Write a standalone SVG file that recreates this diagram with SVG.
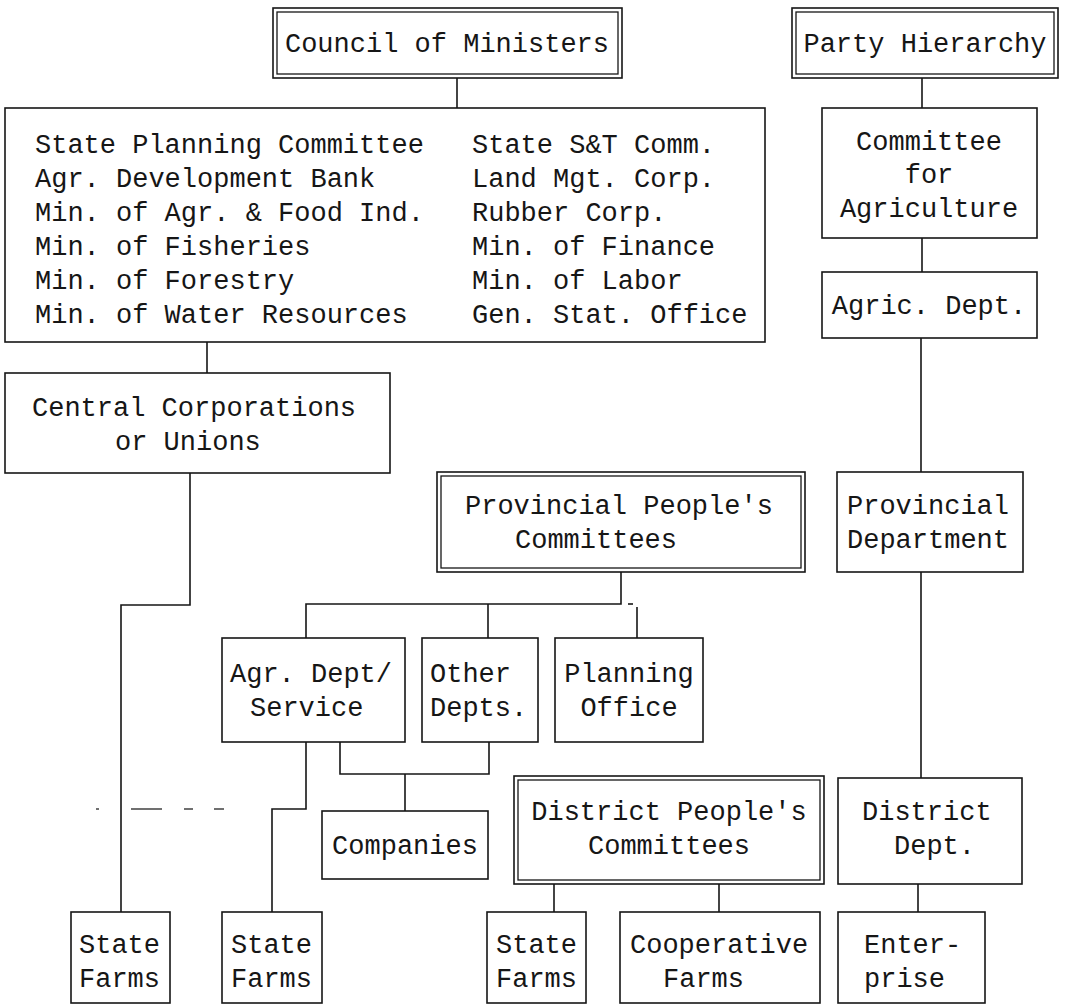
<svg xmlns="http://www.w3.org/2000/svg" width="1065" height="1006" viewBox="0 0 1065 1006">
  <style>
    .box { fill: #fff; stroke: #161616; stroke-width: 1.6; }
    .dbl { fill: none; stroke: #161616; stroke-width: 1.3; }
    .ln { fill: none; stroke: #161616; stroke-width: 1.6; }
    .dash { fill: none; stroke: #333; stroke-width: 1.4; }
    .t { font-family: "Liberation Mono", "Courier New", monospace; font-size: 27px; fill: #161616; }
    .m { text-anchor: middle; }
  </style>
  <rect width="1065" height="1006" fill="#fff"/>

  <!-- connectors -->
  <g id="connectors">
    <polyline class="ln" points="457,78 457,108"/>
    <polyline class="ln" points="922,78 922,108"/>
    <polyline class="ln" points="922,238 922,272"/>
    <polyline class="ln" points="921,338 921,472"/>
    <polyline class="ln" points="921,572 921,778"/>
    <polyline class="ln" points="918,884 918,912"/>
    <polyline class="ln" points="207,342 207,373"/>
    <polyline class="ln" points="190,473 190,605 121,605 121,912"/>
    <polyline class="ln" points="621,572 621,604 306,604 306,638"/>
    <polyline class="ln" points="488,604 488,638"/>
    <polyline class="ln" points="628,604 633,604"/>
    <polyline class="ln" points="637,607 637,638"/>
    <polyline class="ln" points="306,742 306,809 272,809 272,912"/>
    <polyline class="ln" points="340,742 340,774 489,774 489,742"/>
    <polyline class="ln" points="405,774 405,811"/>
    <polyline class="ln" points="554,884 554,912"/>
    <polyline class="ln" points="719,884 719,912"/>
    <g class="dash">
      <line x1="96" y1="809" x2="99" y2="809"/>
      <line x1="131" y1="809" x2="162" y2="809"/>
      <line x1="184" y1="809" x2="193" y2="809"/>
      <line x1="214" y1="809" x2="224" y2="809"/>
    </g>
  </g>

  <!-- central government -->
  <g id="council">
    <rect class="box" x="273" y="8" width="349" height="70"/>
    <rect class="dbl" x="277" y="12" width="341" height="62"/>
    <text class="t m" x="447" y="52">Council of Ministers</text>
  </g>

  <g id="ministries">
    <rect class="box" x="5" y="108" width="760" height="234"/>
    <text class="t" x="35" y="153">State Planning Committee</text>
    <text class="t" x="35" y="187">Agr. Development Bank</text>
    <text class="t" x="35" y="221">Min. of Agr. &amp; Food Ind.</text>
    <text class="t" x="35" y="255">Min. of Fisheries</text>
    <text class="t" x="35" y="289">Min. of Forestry</text>
    <text class="t" x="35" y="323">Min. of Water Resources</text>
    <text class="t" x="472" y="153">State S&amp;T Comm.</text>
    <text class="t" x="472" y="187">Land Mgt. Corp.</text>
    <text class="t" x="472" y="221">Rubber Corp.</text>
    <text class="t" x="472" y="255">Min. of Finance</text>
    <text class="t" x="472" y="289">Min. of Labor</text>
    <text class="t" x="472" y="323">Gen. Stat. Office</text>
  </g>

  <g id="central-corporations">
    <rect class="box" x="5" y="373" width="385" height="100"/>
    <text class="t" x="32" y="416">Central Corporations</text>
    <text class="t" x="115" y="450">or Unions</text>
  </g>

  <g id="state-farms-central">
    <rect class="box" x="71" y="912" width="99" height="91"/>
    <text class="t" x="79" y="953">State</text>
    <text class="t" x="79" y="987">Farms</text>
  </g>

  <!-- party line -->
  <g id="party">
    <rect class="box" x="792" y="8" width="266" height="70"/>
    <rect class="dbl" x="796" y="12" width="258" height="62"/>
    <text class="t m" x="925" y="52">Party Hierarchy</text>
  </g>

  <g id="committee-agriculture">
    <rect class="box" x="822" y="108" width="215" height="130"/>
    <text class="t m" x="929" y="150">Committee</text>
    <text class="t m" x="929" y="183">for</text>
    <text class="t m" x="929" y="217">Agriculture</text>
  </g>

  <g id="agric-dept">
    <rect class="box" x="822" y="272" width="215" height="66"/>
    <text class="t m" x="929" y="314">Agric. Dept.</text>
  </g>

  <g id="provincial-department">
    <rect class="box" x="837" y="472" width="186" height="100"/>
    <text class="t" x="847" y="514">Provincial</text>
    <text class="t" x="847" y="548">Department</text>
  </g>

  <g id="district-dept">
    <rect class="box" x="838" y="778" width="184" height="106"/>
    <text class="t" x="862" y="820">District</text>
    <text class="t" x="894" y="854">Dept.</text>
  </g>

  <g id="enterprise">
    <rect class="box" x="838" y="912" width="147" height="91"/>
    <text class="t" x="864" y="953">Enter-</text>
    <text class="t" x="864" y="987">prise</text>
  </g>

  <!-- provincial level -->
  <g id="provincial-committees">
    <rect class="box" x="437" y="472" width="368" height="100"/>
    <rect class="dbl" x="441" y="476" width="360" height="92"/>
    <text class="t" x="465" y="514">Provincial People's</text>
    <text class="t" x="515" y="548">Committees</text>
  </g>

  <g id="agr-dept-service">
    <rect class="box" x="222" y="638" width="183" height="104"/>
    <text class="t" x="230" y="682">Agr. Dept/</text>
    <text class="t" x="250" y="716">Service</text>
  </g>

  <g id="other-depts">
    <rect class="box" x="422" y="638" width="116" height="104"/>
    <text class="t" x="430" y="682">Other</text>
    <text class="t" x="430" y="716">Depts.</text>
  </g>

  <g id="planning-office">
    <rect class="box" x="555" y="638" width="148" height="104"/>
    <text class="t m" x="629" y="682">Planning</text>
    <text class="t m" x="629" y="716">Office</text>
  </g>

  <g id="state-farms-provincial">
    <rect class="box" x="222" y="912" width="100" height="91"/>
    <text class="t" x="231" y="953">State</text>
    <text class="t" x="231" y="987">Farms</text>
  </g>

  <g id="companies">
    <rect class="box" x="322" y="811" width="166" height="68"/>
    <text class="t m" x="405" y="854">Companies</text>
  </g>

  <!-- district level -->
  <g id="district-committees">
    <rect class="box" x="514" y="776" width="310" height="108"/>
    <rect class="dbl" x="518" y="780" width="302" height="100"/>
    <text class="t m" x="669" y="820">District People's</text>
    <text class="t m" x="669" y="854">Committees</text>
  </g>

  <g id="state-farms-district">
    <rect class="box" x="487" y="912" width="99" height="91"/>
    <text class="t" x="496" y="953">State</text>
    <text class="t" x="496" y="987">Farms</text>
  </g>

  <g id="cooperative-farms">
    <rect class="box" x="620" y="912" width="200" height="91"/>
    <text class="t" x="630" y="953">Cooperative</text>
    <text class="t" x="663" y="987">Farms</text>
  </g>
</svg>
